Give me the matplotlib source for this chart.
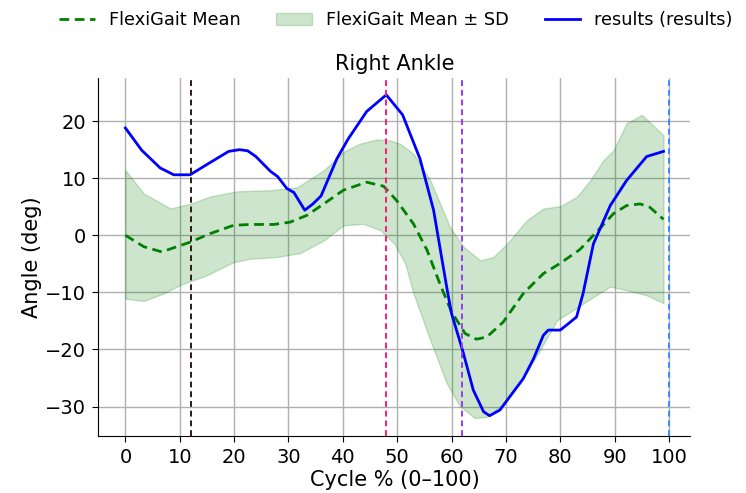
import matplotlib
matplotlib.use("Agg")
import matplotlib.pyplot as plt
import numpy as np

# Results (blue)
res_x = [0, 3, 6.4, 8.9, 11.9, 15, 19, 21, 22.5, 24, 26.7, 28, 29.7, 31, 33, 34.5, 36, 38.9, 41, 44.4, 48,
         51, 54.2, 56.7, 59.1, 60, 61.3, 62.2, 64, 65.9, 67, 68.9, 71.4, 73.2, 75.1, 76.9, 77.8, 80, 81.2,
         83, 84.2, 86.1, 89.2, 92.2, 95.9, 99]
res_y = [18.8, 14.9, 11.8, 10.6, 10.6, 12.4, 14.7, 15.0, 14.8, 13.8, 11.2, 10.3, 8.2, 7.5, 4.4, 5.5, 6.9, 13.4, 16.9, 21.7, 24.6,
         21.1, 13.4, 4.4, -9.0, -13.7, -17.8, -20.7, -27.1, -30.9, -31.6, -30.6, -27.4, -25.1, -21.6, -17.5, -16.6, -16.6, -15.7,
         -14.3, -10.2, -1.5, 5.2, 9.6, 13.8, 14.7]

# FlexiGait mean (green dashed)
mean_x = [0, 3.4, 6.7, 11.9, 15.6, 19.9, 23, 27.3, 30.3, 33.4, 36.5, 40.1, 44.4, 47.5, 49.9, 53, 55.5, 57.9,
          60, 62.5, 64.6, 66.5, 69.5, 73.2, 76.9, 80, 83.6, 86.7, 89.8, 92.2, 94.7, 96.5, 99]
mean_y = [0.0, -2.0, -2.9, -1.2, 0.3, 1.75, 1.9, 1.9, 2.3, 3.5, 5.5, 7.9, 9.3, 8.6, 6.1, 2.0, -2.6, -8.6,
          -13.4, -17.2, -18.2, -17.8, -15.2, -10.2, -6.7, -4.9, -2.5, 0.6, 3.8, 5.2, 5.5, 4.9, 2.8]

# FlexiGait mean +/- SD band
upper_x = [0, 3.4, 8.3, 11.9, 15.6, 20.5, 26.7, 31.6, 36.5, 40.1, 43, 46.3, 48.7, 50.6, 53, 56.1, 59.7, 62.2,
           65.3, 67.7, 70.2, 73.8, 76.9, 80, 83, 85.5, 87.9, 89.8, 92.2, 95, 97.7, 99]
upper_y = [11.4, 7.3, 4.7, 5.5, 6.8, 7.7, 7.9, 8.4, 11.4, 14.6, 16.0, 16.8, 16.6, 16.0, 14.3, 9.6, 1.45, -2.0,
           -4.4, -3.8, -1.5, 2.6, 4.7, 5.1, 6.7, 9.6, 13.1, 14.9, 19.6, 21.1, 18.7, 17.5]
lower_x = [0, 3.4, 7, 10.1, 15, 19.9, 23, 27.9, 32.2, 36.5, 40.1, 43.8, 46.9, 49.5, 51.5, 53, 56.1, 59.1, 61.6,
           64.3, 66.5, 68.9, 72.6, 76.3, 79.4, 82.4, 86.1, 89.2, 92.2, 95.9, 99]
lower_y = [-11.1, -11.5, -10.2, -8.7, -7.0, -4.7, -4.1, -3.8, -3.1, -0.9, 1.75, 2.0, 0.9, -1.5, -5.0, -10.2, -18.4, -25.9, -30.0,
           -32.0, -31.8, -30.0, -25.9, -20.1, -14.9, -13.1, -10.8, -9.0, -9.6, -10.5, -11.9]

events_x = [12, 48, 62, 100]
events_c = ["#2e1a12", "#ff1a75", "#9a3cf0", "#3d8cff"]

xticks = list(range(0, 101, 10))
yticks = [-30, -20, -10, 0, 10, 20]

fig = plt.figure(figsize=(7.46, 4.93), dpi=100)
ax = fig.add_axes([0.132, 0.1162, 0.7935, 0.725])

band_grid = np.union1d(upper_x, lower_x)
up = np.interp(band_grid, upper_x, upper_y)
lo = np.interp(band_grid, lower_x, lower_y)
ax.fill_between(band_grid, lo, up, color="green", alpha=0.2, linewidth=1.0, label="FlexiGait Mean ± SD")
ax.plot(mean_x, mean_y, color="green", linestyle="--", linewidth=2.0, dashes=(3.5, 2), label="FlexiGait Mean")
ax.plot(res_x, res_y, color="blue", linewidth=2.0, label="results (results)")

for xv, c in zip(events_x, events_c):
    ax.axvline(xv, color=c, linestyle="--", linewidth=1.4, dashes=(3, 2))

ax.set_xlim(-4.95, 103.95)
ax.set_ylim(-35.1, 27.5)
ax.set_xticks(xticks)
ax.set_yticks(yticks)
ax.grid(True, color="#b0b0b0", linewidth=1.0)
ax.set_axisbelow(True)
for s in ["top", "right"]:
    ax.spines[s].set_visible(False)
ax.tick_params(labelsize=14, length=4.3, pad=4.5)
ax.set_xlabel("Cycle % (0–100)", fontsize=15, labelpad=2)
ax.set_ylabel("Angle (deg)", fontsize=15, labelpad=2)
ax.set_title("Right Ankle", fontsize=15, pad=6)

h, l = ax.get_legend_handles_labels()
order = [l.index("FlexiGait Mean"), l.index("FlexiGait Mean ± SD"), l.index("results (results)")]
fig.legend([h[i] for i in order], [l[i] for i in order], loc="upper center", bbox_to_anchor=(0.531, 1.01),
           ncol=3, frameon=False, fontsize=12.8)

fig.savefig("out.png", dpi=100)
